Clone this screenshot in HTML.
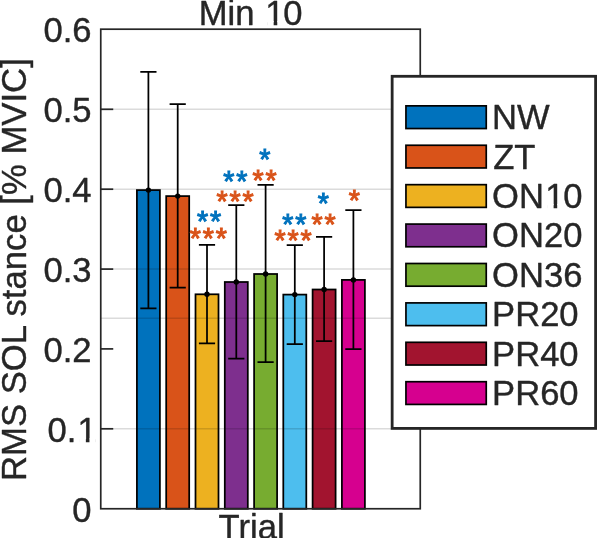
<!DOCTYPE html>
<html lang="en">
<head>
<meta charset="utf-8">
<title>Min 10</title>
<style>
html,body{margin:0;padding:0;background:#fff;}
body{width:597px;height:538px;overflow:hidden;}
svg{display:block;will-change:transform;}
text.s{font-size:28.6px;letter-spacing:1.87px;stroke-width:1px;stroke-linejoin:miter;}
text{font-family:"Liberation Sans",sans-serif;font-size:34.6px;fill:#262626;stroke:#262626;stroke-width:0.4px;stroke-linejoin:round;}
</style>
</head>
<body>
<svg width="597" height="538" viewBox="0 0 597 538">
<rect x="0" y="0" width="597" height="538" fill="#ffffff"/>
<g stroke="#000" stroke-width="1.75">
<rect x="136.90" y="190.10" width="23.00" height="318.65" fill="#0072BD"/>
<rect x="166.20" y="196.10" width="23.00" height="312.65" fill="#D95319"/>
<rect x="195.50" y="294.30" width="23.00" height="214.45" fill="#EDB120"/>
<rect x="224.80" y="282.00" width="23.00" height="226.75" fill="#7E2F8E"/>
<rect x="254.10" y="274.00" width="23.00" height="234.75" fill="#77AC30"/>
<rect x="283.30" y="294.60" width="23.00" height="214.15" fill="#4DBEEE"/>
<rect x="312.60" y="289.50" width="23.00" height="219.25" fill="#A2142F"/>
<rect x="341.90" y="279.90" width="23.00" height="228.85" fill="#D6008F"/>
</g>
<g stroke="#000" stroke-opacity="0.14" stroke-width="1.5">
<line x1="100.75" y1="428.70" x2="420.25" y2="428.70"/>
<line x1="100.75" y1="318.20" x2="420.25" y2="318.20"/>
<line x1="100.75" y1="269.10" x2="420.25" y2="269.10"/>
<line x1="100.75" y1="189.20" x2="420.25" y2="189.20"/>
<line x1="100.75" y1="109.30" x2="420.25" y2="109.30"/>
</g>
<g stroke="#262626" stroke-width="1.7" fill="none">
<rect x="100.75" y="29.20" width="319.50" height="479.55"/>
<line x1="100.75" y1="428.80" x2="113.25" y2="428.80"/>
<line x1="100.75" y1="348.90" x2="113.25" y2="348.90"/>
<line x1="100.75" y1="269.10" x2="113.25" y2="269.10"/>
<line x1="100.75" y1="189.20" x2="113.25" y2="189.20"/>
<line x1="100.75" y1="109.30" x2="113.25" y2="109.30"/>
</g>
<g stroke="#000" stroke-width="1.75" fill="none">
<path d="M148.40 71.80V308.30M140.30 71.80H156.50M140.30 308.30H156.50"/>
<path d="M177.70 104.10V287.70M169.60 104.10H185.80M169.60 287.70H185.80"/>
<path d="M207.00 244.80V343.30M198.90 244.80H215.10M198.90 343.30H215.10"/>
<path d="M236.30 205.00V358.70M228.20 205.00H244.40M228.20 358.70H244.40"/>
<path d="M265.60 184.80V362.00M257.50 184.80H273.70M257.50 362.00H273.70"/>
<path d="M294.80 245.00V344.00M286.70 245.00H302.90M286.70 344.00H302.90"/>
<path d="M324.10 236.90V341.10M316.00 236.90H332.20M316.00 341.10H332.20"/>
<path d="M353.40 210.00V349.10M345.30 210.00H361.50M345.30 349.10H361.50"/>
</g>
<g fill="#000">
<circle cx="148.40" cy="190.10" r="2.7"/>
<circle cx="177.70" cy="196.10" r="2.7"/>
<circle cx="207.00" cy="294.30" r="2.7"/>
<circle cx="236.30" cy="282.00" r="2.7"/>
<circle cx="265.60" cy="274.00" r="2.7"/>
<circle cx="294.80" cy="294.60" r="2.7"/>
<circle cx="324.10" cy="289.50" r="2.7"/>
<circle cx="353.40" cy="279.90" r="2.7"/>
</g>
<g>
<text class="s" x="197.12" y="231.40" style="fill:#0072BD;stroke:#0072BD">**</text>
<text class="s" x="189.82" y="248.10" style="fill:#D95319;stroke:#D95319">***</text>
<text class="s" x="223.32" y="190.70" style="fill:#0072BD;stroke:#0072BD">**</text>
<text class="s" x="216.52" y="210.60" style="fill:#D95319;stroke:#D95319">***</text>
<text class="s" x="259.32" y="169.20" style="fill:#0072BD;stroke:#0072BD">*</text>
<text class="s" x="252.52" y="190.10" style="fill:#D95319;stroke:#D95319">**</text>
<text class="s" x="282.32" y="233.70" style="fill:#0072BD;stroke:#0072BD">**</text>
<text class="s" x="274.52" y="250.30" style="fill:#D95319;stroke:#D95319">***</text>
<text class="s" x="317.82" y="213.00" style="fill:#0072BD;stroke:#0072BD">*</text>
<text class="s" x="311.42" y="233.70" style="fill:#D95319;stroke:#D95319">**</text>
<text class="s" x="348.82" y="210.00" style="fill:#D95319;stroke:#D95319">*</text>
</g>
<rect x="392.15" y="76.30" width="203.45" height="352.10" fill="#fff" stroke="#262626" stroke-width="2.8"/>
<rect x="405.95" y="105.85" width="80.3" height="22.7" fill="#0072BD" stroke="#000" stroke-width="1.7"/>
<text x="492.10" y="129.10">NW</text>
<rect x="405.95" y="145.26" width="80.3" height="22.7" fill="#D95319" stroke="#000" stroke-width="1.7"/>
<text x="493.20" y="168.51">ZT</text>
<rect x="405.95" y="184.67" width="80.3" height="22.7" fill="#EDB120" stroke="#000" stroke-width="1.7"/>
<text x="492.10" y="207.92">ON<tspan dx="1.2">1</tspan><tspan dx="-1.2">0</tspan></text>
<rect x="405.95" y="224.08" width="80.3" height="22.7" fill="#7E2F8E" stroke="#000" stroke-width="1.7"/>
<text x="492.10" y="247.33">ON20</text>
<rect x="405.95" y="263.49" width="80.3" height="22.7" fill="#77AC30" stroke="#000" stroke-width="1.7"/>
<text x="492.10" y="286.74">ON36</text>
<rect x="405.95" y="302.90" width="80.3" height="22.7" fill="#4DBEEE" stroke="#000" stroke-width="1.7"/>
<text x="492.10" y="326.15">PR20</text>
<rect x="405.95" y="342.31" width="80.3" height="22.7" fill="#A2142F" stroke="#000" stroke-width="1.7"/>
<text x="492.10" y="365.56">PR40</text>
<rect x="405.95" y="381.72" width="80.3" height="22.7" fill="#D6008F" stroke="#000" stroke-width="1.7"/>
<text x="492.10" y="404.97">PR60</text>
<g text-anchor="end">
<text x="91.50" y="522.00">0</text>
<text x="96.70" y="442.20">0.<tspan dx="1.2">1</tspan></text>
<text x="91.50" y="361.50">0.2</text>
<text x="91.50" y="281.70">0.3</text>
<text x="91.50" y="201.80">0.4</text>
<text x="91.50" y="121.90">0.5</text>
<text x="91.50" y="41.90">0.6</text>
</g>
<text x="250.6" y="24.9" text-anchor="middle">Min <tspan dx="1.2">1</tspan><tspan dx="-1.2">0</tspan></text>
<text x="251.6" y="539.2" text-anchor="middle">Trial</text>
<text transform="translate(25.9,269.6) rotate(-90)" text-anchor="middle" style="font-size:34.7px">RMS SOL stance [% MVIC]</text>
<rect x="79.36" y="438.30" width="6.50" height="5.2" fill="#fff"/>
<rect x="89.46" y="438.30" width="6.30" height="5.2" fill="#fff"/>
<rect x="267.16" y="21.00" width="6.50" height="5.2" fill="#fff"/>
<rect x="277.26" y="21.00" width="6.30" height="5.2" fill="#fff"/>
<rect x="547.10" y="204.02" width="6.50" height="5.2" fill="#fff"/>
<rect x="557.20" y="204.02" width="6.30" height="5.2" fill="#fff"/>
</svg>
</body>
</html>
